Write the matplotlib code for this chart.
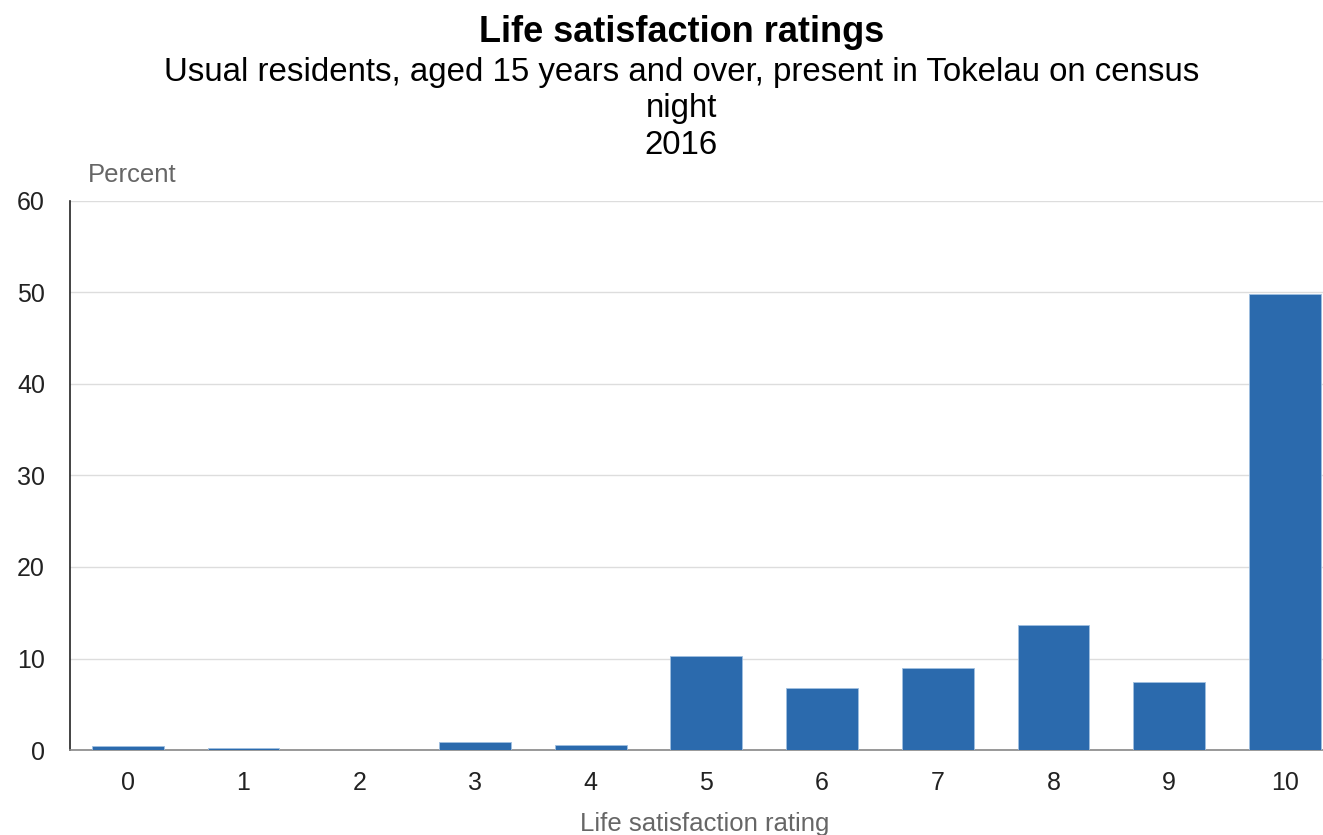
import numpy as np
import matplotlib.pyplot as plt

plt.rcParams['font.family'] = ['Liberation Sans', 'DejaVu Sans']

# データ
ratings = ["0", "1", "2", "3", "4", "5", "6", "7", "8", "9", "10"]
percent = [0.4, 0.2, 0.0, 0.9, 0.6, 10.3, 6.8, 9.0, 13.7, 7.4, 49.8]
y_ticks = [0, 10, 20, 30, 40, 50, 60]

fig = plt.figure(figsize=(13.23, 8.35), dpi=100)
ax = fig.add_axes([70 / 1323, 1 - 750 / 835, 1 - 70 / 1323, (750 - 201) / 835])

x = np.arange(len(ratings))
ax.bar(x, percent, width=0.62, color='#2b6aad', edgecolor='#9fbfe0', linewidth=0.6, zorder=3)

ax.set_xlim(-0.5, 10.33)
ax.set_ylim(0, 60)
ax.set_xticks(x)
ax.set_xticklabels(ratings)
ax.set_yticks(y_ticks)
ax.tick_params(axis='both', length=0, labelsize=18, colors='#222222')
ax.tick_params(axis='x', pad=15)
ax.tick_params(axis='y', pad=18)

ax.grid(True, axis='y', color='#dddddd', linewidth=1, zorder=0)
for s in ['top', 'right']:
    ax.spines[s].set_visible(False)
ax.spines['left'].set_color('#222222')
ax.spines['left'].set_linewidth(1.2)
ax.spines['bottom'].set_color('#888888')
ax.spines['bottom'].set_linewidth(1.2)

# 軸ラベル
fig.text(705 / 1323, 1 - 824 / 835, "Life satisfaction rating", fontsize=18.5, color='#666666',
         ha='center', va='center')
fig.text(88 / 1323, 1 - 175 / 835, "Percent", fontsize=18.5, color='#666666', va='center', ha='left')

# タイトル
fig.text(0.515, 1 - 33 / 835, "Life satisfaction ratings", fontsize=26, fontweight='bold',
         ha='center', va='center')
fig.text(0.515, 1 - 73 / 835, "Usual residents, aged 15 years and over, present in Tokelau on census",
         fontsize=23.8, ha='center', va='center')
fig.text(0.515, 1 - 108 / 835, "night", fontsize=23.8, ha='center', va='center')
fig.text(0.515, 1 - 145 / 835, "2016", fontsize=23.8, ha='center', va='center')

fig.savefig("out.png", dpi=100)
